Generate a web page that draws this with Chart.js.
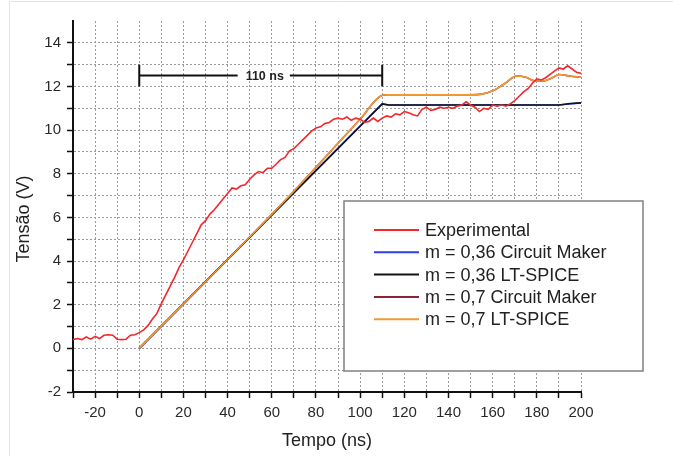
<!DOCTYPE html>
<html>
<head>
<meta charset="utf-8">
<script src="https://cdn.jsdelivr.net/npm/chart.js@4.4.0/dist/chart.umd.min.js"></script>
<style>
  html, body { margin: 0; padding: 0; background: #fff; }
  #wrap { width: 673px; height: 456px; position: relative; }
</style>
</head>
<body>
<div id="wrap"><canvas id="tensionChart"></canvas></div>
<script>
// Experimental trace (time in ns, voltage in V)
const expTime = [
  -30, -28, -26, -24, -22, -20, -18, -16, -14, -12, -10, -8, -6, -4, -2,
  0, 2, 4, 6, 8, 10, 12, 14, 16, 18, 20, 22, 24, 26, 28,
  30, 32, 34, 36, 38, 40, 42, 44, 46, 48, 50, 52, 54, 56, 58,
  60, 62, 64, 66, 68, 70, 72, 74, 76, 78, 80, 82, 84, 86, 88,
  90, 92, 94, 96, 98, 100, 102, 104, 106, 108, 110, 112, 114, 116, 118,
  120, 122, 124, 126, 128, 130, 132, 134, 136, 138, 140, 142, 144, 146, 148,
  150, 152, 154, 156, 158, 160, 162, 164, 166, 168, 170, 172, 174, 176, 178,
  180, 182, 184, 186, 188, 190, 192, 194, 196, 198, 200
];
const expVolt = [
  0.40, 0.45, 0.40, 0.52, 0.42, 0.55, 0.45, 0.60, 0.62, 0.60, 0.42, 0.40, 0.42, 0.60, 0.62,
  0.72, 0.85, 1.05, 1.35, 1.60, 2.05, 2.45, 2.85, 3.25, 3.70, 4.05, 4.45, 4.85, 5.25, 5.65,
  5.85, 6.15, 6.35, 6.60, 6.85, 7.10, 7.35, 7.30, 7.45, 7.50, 7.75, 7.95, 8.10, 8.05, 8.25,
  8.25, 8.45, 8.65, 8.75, 9.05, 9.15, 9.35, 9.55, 9.75, 9.95, 10.10, 10.15, 10.30, 10.35, 10.50,
  10.55, 10.50, 10.60, 10.45, 10.55, 10.50, 10.35, 10.40, 10.55, 10.40, 10.55, 10.65, 10.60, 10.75, 10.70,
  10.85, 10.80, 10.70, 10.65, 10.95, 11.05, 10.90, 10.95, 11.05, 11.00, 11.05, 11.00, 11.10, 11.15, 11.30,
  11.15, 11.05, 10.85, 11.00, 10.95, 11.15, 11.10, 11.15, 11.10, 11.20, 11.35, 11.55, 11.75, 11.90, 12.15,
  12.35, 12.30, 12.40, 12.55, 12.70, 12.85, 12.80, 12.95, 12.80, 12.65, 12.60
];

// Simulations, m = 0,36
const cm036Time = [0, 110, 113, 150, 190, 195, 200];
const cm036Volt = [0, 11.2, 11.15, 11.15, 11.15, 11.2, 11.25];
const lt036Time = [0, 110, 113, 150, 190, 195, 200];
const lt036Volt = [0, 11.2, 11.15, 11.15, 11.15, 11.22, 11.25];

// Simulations, m = 0,7
const cm07Time = [0, 50, 70, 90, 100, 110, 112, 150, 155, 160, 165, 171, 175, 179, 183, 187, 190, 195, 200];
const cm07Volt = [0, 5.1, 7.2, 9.4, 10.5, 11.6, 11.62, 11.62, 11.65, 11.8, 12.1, 12.48, 12.42, 12.26, 12.25, 12.4, 12.55, 12.48, 12.42];
const lt07Time = [0, 50, 70, 90, 100, 110, 112, 150, 155, 160, 165, 171, 175, 179, 183, 187, 190, 195, 200];
const lt07Volt = [0, 5.1, 7.2, 9.4, 10.5, 11.6, 11.62, 11.62, 11.65, 11.8, 12.1, 12.48, 12.42, 12.26, 12.25, 12.4, 12.55, 12.48, 12.42];

const seriesNames = [
  'Experimental',
  'm = 0,36 Circuit Maker',
  'm = 0,36 LT-SPICE',
  'm = 0,7 Circuit Maker',
  'm = 0,7 LT-SPICE'
];
const seriesColors = ['#f2272b', '#2f3cf0', '#141414', '#8c2436', '#f39a32'];

// Axes
const xMin = -30, xMax = 200;
const yMin = -2, yMax = 15;

// "110 ns" marker
const markStart = 0, markEnd = 110, markLevel = 12.5, markCap = 0.5;
const markText = '110 ns';

const FONT = "'Liberation Sans', Arial, sans-serif";

function toPoints(xs, ys) {
  return xs.map((x, i) => ({ x: x, y: ys[i] }));
}

// background frame, marker, legend box and axis titles
const overlayPlugin = {
  id: 'overlay',
  beforeDraw(chart) {
    const ctx = chart.ctx;
    ctx.save();
    ctx.fillStyle = '#fff';
    ctx.fillRect(0, 0, chart.width, chart.height);
    ctx.strokeStyle = '#e3e3e3';
    ctx.lineWidth = 1;
    ctx.beginPath();
    ctx.moveTo(9.5, chart.height);
    ctx.lineTo(9.5, 1.5);
    ctx.lineTo(chart.width, 1.5);
    ctx.stroke();
    ctx.restore();
  },
  afterDraw(chart) {
    const ctx = chart.ctx;
    const xs = chart.scales.x, ys = chart.scales.y;
    ctx.save();

    // marker bar
    const x0 = xs.getPixelForValue(markStart);
    const x1 = xs.getPixelForValue(markEnd);
    const ym = ys.getPixelForValue(markLevel);
    const yTop = ys.getPixelForValue(markLevel + markCap);
    const yBot = ys.getPixelForValue(markLevel - markCap);
    ctx.font = 'bold 12.5px ' + FONT;
    const tw = ctx.measureText(markText).width;
    const tc = (x0 + x1) / 2 + 4;
    ctx.strokeStyle = '#111';
    ctx.lineWidth = 2;
    ctx.beginPath();
    ctx.moveTo(x0, yTop); ctx.lineTo(x0, yBot);
    ctx.moveTo(x1, yTop); ctx.lineTo(x1, yBot);
    ctx.moveTo(x0, ym); ctx.lineTo(tc - tw / 2 - 8, ym);
    ctx.moveTo(tc + tw / 2 + 6, ym); ctx.lineTo(x1, ym);
    ctx.stroke();
    ctx.fillStyle = '#222';
    ctx.textAlign = 'center';
    ctx.textBaseline = 'middle';
    ctx.fillText(markText, tc, ym + 1);

    // legend box
    ctx.fillStyle = '#fff';
    ctx.fillRect(344, 201, 299, 170);
    ctx.strokeStyle = '#808080';
    ctx.lineWidth = 1.5;
    ctx.strokeRect(344, 201, 299, 170);
    ctx.font = '18px ' + FONT;
    ctx.textAlign = 'left';
    ctx.textBaseline = 'middle';
    chart.data.datasets.forEach((ds, i) => {
      const y = 230 + i * 22.3;
      ctx.strokeStyle = ds.borderColor;
      ctx.lineWidth = 2;
      ctx.beginPath();
      ctx.moveTo(374, y);
      ctx.lineTo(419, y);
      ctx.stroke();
      ctx.fillStyle = '#222';
      ctx.fillText(ds.label, 425, y + 1);
    });

    // axis titles
    ctx.fillStyle = '#222';
    ctx.font = '18px ' + FONT;
    ctx.textAlign = 'center';
    ctx.fillText('Tempo (ns)', (chart.chartArea.left + chart.chartArea.right) / 2, 441);
    ctx.translate(24, 219);
    ctx.rotate(-Math.PI / 2);
    ctx.fillText('Tensão (V)', 0, 0);
    ctx.restore();
  }
};

const allTimes = [expTime, cm036Time, lt036Time, cm07Time, lt07Time];
const allVolts = [expVolt, cm036Volt, lt036Volt, cm07Volt, lt07Volt];
const drawOrder = [0, 3, 2, 3, 1];

const datasets = seriesNames.map((name, i) => ({
  label: name,
  data: toPoints(allTimes[i], allVolts[i]),
  borderColor: seriesColors[i],
  backgroundColor: seriesColors[i],
  borderWidth: 1.6,
  pointRadius: 0,
  fill: false,
  order: drawOrder[i],
  cubicInterpolationMode: i >= 3 ? 'monotone' : 'default',
  tension: 0
}));

function gridColor(ctx) {
  return '#9c9c9c';
}

new Chart(document.getElementById('tensionChart'), {
  type: 'line',
  data: { datasets: datasets },
  plugins: [overlayPlugin],
  options: {
    responsive: true,
    maintainAspectRatio: false,
    animation: false,
    devicePixelRatio: 1,
    layout: { padding: { top: 21, right: 92, left: 0, bottom: 0 } },
    plugins: {
      legend: { display: false },
      tooltip: { enabled: false }
    },
    scales: {
      x: {
        type: 'linear',
        min: xMin,
        max: xMax,
        afterFit: function(scale) { scale.height = 64; },
        ticks: {
          stepSize: 10,
          autoSkip: false,
          maxRotation: 0,
          padding: 6,
          color: '#2a2a2a',
          font: { family: FONT, size: 15 },
          callback: function(v) { return v % 20 === 0 ? String(v) : ''; }
        },
        grid: {
          color: gridColor,
          lineWidth: 1,
          tickColor: '#111',
          tickLength: 6,
          tickWidth: 1.5,
          tickBorderDash: []
        },
        border: { display: true, color: '#111', width: 2, dash: [2, 2] }
      },
      y: {
        min: yMin,
        max: yMax,
        afterFit: function(scale) { scale.width = 73; },
        ticks: {
          stepSize: 1,
          autoSkip: false,
          padding: 6,
          color: '#2a2a2a',
          font: { family: FONT, size: 15 },
          callback: function(v) { return v % 2 === 0 ? String(v) : ''; }
        },
        grid: {
          color: function(c) {
            return c.tick && c.tick.value === yMax ? 'rgba(0,0,0,0)' : '#9c9c9c';
          },
          lineWidth: 1,
          tickColor: function(c) {
            return c.tick && c.tick.value === yMax ? 'rgba(0,0,0,0)' : '#111';
          },
          tickLength: 6,
          tickWidth: 1.5,
          tickBorderDash: []
        },
        border: { display: true, color: '#111', width: 2, dash: [2, 2] }
      }
    }
  }
});
</script>
</body>
</html>
